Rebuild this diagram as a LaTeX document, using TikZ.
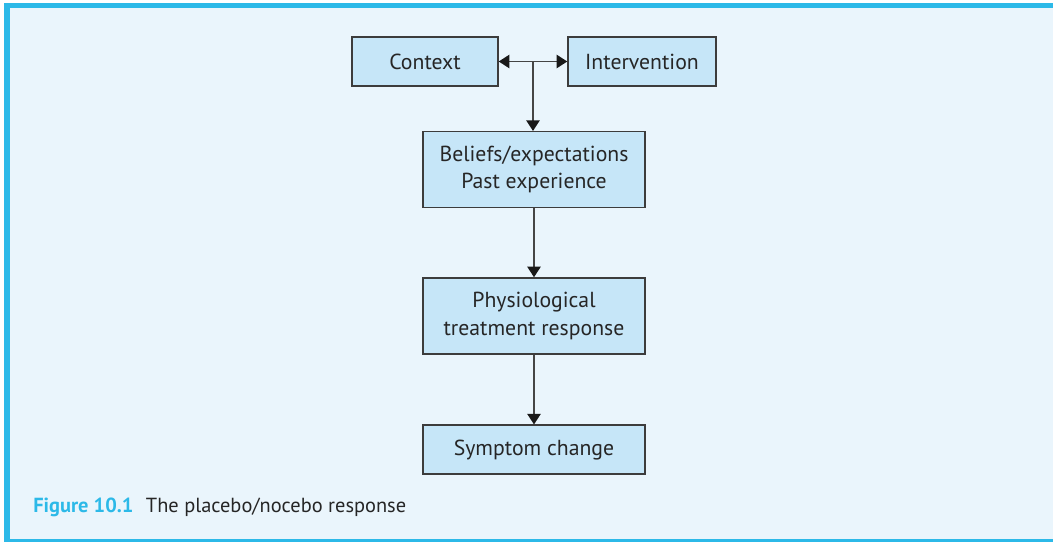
\documentclass[tikz,border=0pt]{standalone}
\usepackage{fontspec}
\setmainfont{PT Sans}
\usetikzlibrary{arrows.meta,calc}
\definecolor{framecyan}{HTML}{2CB9E8}
\definecolor{panelbg}{HTML}{EAF5FC}
\definecolor{boxfill}{HTML}{C6E6F8}
\definecolor{boxline}{HTML}{3C3C3C}
\definecolor{linkgrey}{HTML}{454545}
\begin{document}
\begin{tikzpicture}[x=0.75pt,y=-0.75pt,
  flowbox/.style={draw=boxline, line width=1.1pt, fill=boxfill, align=center,
    inner sep=0pt, text=black!85,
    font=\fontsize{16.3}{20.5}\selectfont},
  link/.style={draw=linkgrey, line width=1.3pt,
    -{Triangle[length=8pt,width=10pt,color=black!90]}},
  dlink/.style={draw=linkgrey, line width=1.3pt,
    {Triangle[length=8pt,width=10pt,color=black!90]}-{Triangle[length=8pt,width=10pt,color=black!90]}}
]
% panel with its cyan frame
\useasboundingbox (0,0) rectangle (1053,542);
\fill[white] (0,0) rectangle (1053,542);
\fill[panelbg] (4,3) rectangle (1053,542);
\fill[framecyan] (4,3) rectangle (1053,8.5);
\fill[framecyan] (4,3) rectangle (9.5,542);
\fill[framecyan] (4,538.5) rectangle (1053,542);

% boxes
\node[flowbox, minimum width=146*0.75pt, minimum height=49*0.75pt] (context) at (425,61.5) {Context};
\node[flowbox, minimum width=148*0.75pt, minimum height=49*0.75pt] (interv) at (642,61.5) {Intervention};
\node[flowbox, minimum width=222*0.75pt, minimum height=76*0.75pt] (beliefs) at (534,169.7) {Beliefs/expectations\\Past experience};
\node[flowbox, minimum width=222*0.75pt, minimum height=76*0.75pt] (physio) at (534,316) {Physiological\\treatment response};
\node[flowbox, minimum width=222*0.75pt, minimum height=49*0.75pt] (symptom) at (534,449.7) {Symptom change};

% connectors
\draw[dlink] (context.east) -- (interv.west);
\coordinate (junction) at ($(context.east)!0.5!(interv.west)$);
\draw[link] (junction) -- (junction |- beliefs.north);
\draw[link] (beliefs.south) -- (physio.north);
\draw[link] (physio.south) -- (symptom.north);

% caption
\node[anchor=base west, inner sep=0pt, font=\fontsize{15.3}{18}\selectfont\bfseries, text=framecyan] (figlabel) at (33,512) {Figure 10.1};
\node[anchor=base west, inner sep=0pt, font=\fontsize{15.3}{18}\selectfont, text=black!85] (figtitle) at (145.7,512) {The placebo/nocebo response};
\end{tikzpicture}
\end{document}
